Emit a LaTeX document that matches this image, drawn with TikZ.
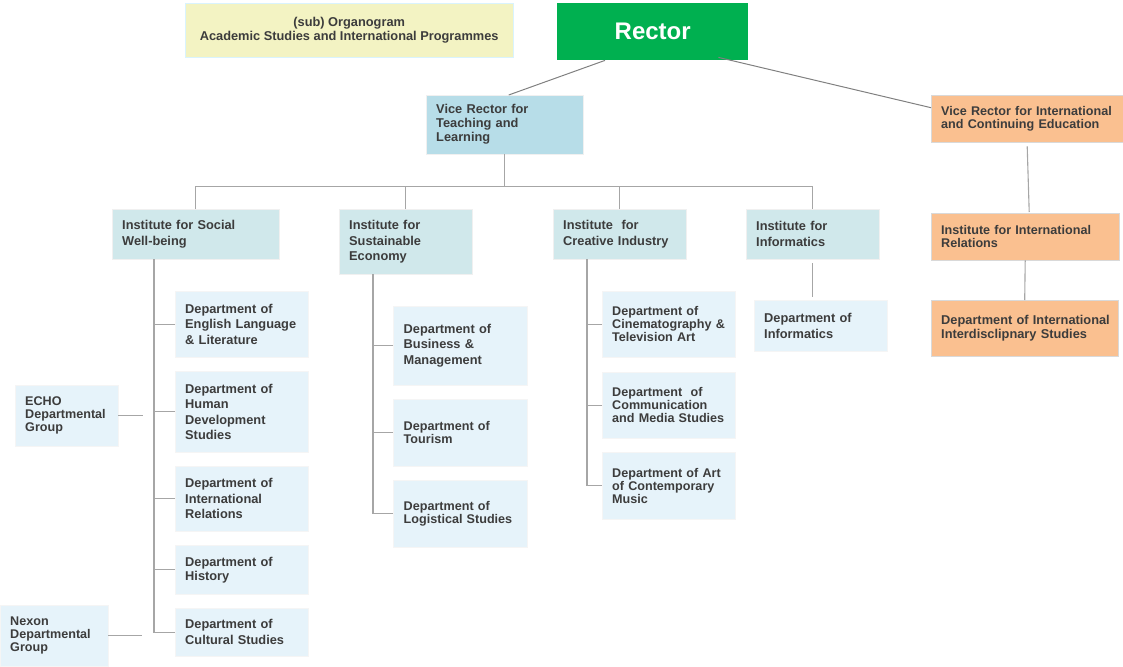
\documentclass[tikz,border=0pt]{standalone}
\usepackage{fontspec}
\setmainfont{Liberation Sans}
\usetikzlibrary{calc}

\definecolor{rectorgreen}{HTML}{00B050}
\definecolor{vrblue}{HTML}{B7DDE8}
\definecolor{vrorange}{HTML}{FAC090}
\definecolor{instteal}{HTML}{D0E8EB}
\definecolor{deptblue}{HTML}{E6F3FA}
\definecolor{titleyellow}{HTML}{F3F3C3}
\definecolor{txtgray}{HTML}{3C3C3C}
\definecolor{linkgray}{HTML}{A6A6A6}

\tikzset{
  unit/.style={rectangle, anchor=north west, align=left, inner xsep=10, inner ysep=0,
    text=txtgray, font=\bfseries\fontsize{12.8}{15.5}\selectfont},
  sp13/.style={font=\bfseries\fontsize{12.6}{13.2}\selectfont},
  sp14/.style={font=\bfseries\fontsize{12.8}{14}\selectfont},
  sp16/.style={font=\bfseries\fontsize{12.8}{16}\selectfont},
  inst/.style={unit, fill=instteal, draw=black!6, minimum width=133, text width=113},
  dept/.style={unit, fill=deptblue, draw=black!4, minimum width=133, text width=113},
  orange/.style={unit, fill=vrorange, draw=black!15},
  link/.style={draw=linkgray, line width=1.1pt},
  toplink/.style={draw=black!50, line width=1pt}
}

\begin{document}
\begin{tikzpicture}[x=1pt, y=-1pt]
  \useasboundingbox (0,0) rectangle (1123,666);

  % top level
  \node[unit, sp14, fill=titleyellow, draw=cyan!15, align=center, minimum width=328, minimum height=54] (title) at (185,3)
    {(sub) Organogram\\Academic Studies and International Programmes};
  \node[unit, fill=rectorgreen, text=white, align=center, minimum width=191, minimum height=57,
    font=\bfseries\fontsize{24}{28}\selectfont] (rector) at (557,3) {Rector};
  \node[unit, sp14, fill=vrblue, draw=black!6, minimum width=157, minimum height=59, text width=137] (vrt) at (426,95)
    {Vice Rector for\\Teaching and\\Learning};
  \node[orange, sp13, minimum width=192, minimum height=47, text width=172] (vri) at (931,95)
    {Vice Rector for International\\and Continuing Education};

  % institutes
  \node[inst, sp16, minimum width=167, text width=147, minimum height=50] (soc) at (112,209) {Institute for Social\\Well-being};
  \node[inst, minimum height=65] (sus) at (339,209) {Institute for\\Sustainable\\Economy};
  \node[inst, sp16, minimum height=50] (cre) at (553,209) {Institute~~for\\Creative Industry};
  \node[inst, sp16, minimum height=50] (info) at (746,209) {Institute for\\Informatics};
  \node[orange, sp13, minimum width=188, minimum height=47, text width=168] (iir) at (931,213)
    {Institute for International\\Relations};

  % departments
  \node[dept, minimum height=66] (eng) at (175,291) {Department of\\English Language\\\& Literature};
  \node[dept, minimum height=81] (hum) at (175,371) {Department of\\Human\\Development\\Studies};
  \node[dept, minimum height=65] (irel) at (175,466) {Department of\\International\\Relations};
  \node[dept, sp14, minimum height=49] (hist) at (175,545) {Department of\\History};
  \node[dept, sp16, minimum height=48] (cult) at (175,608) {Department of\\Cultural Studies};

  \node[dept, minimum width=103, text width=83, sp13, minimum height=61] (echo) at (15,385) {ECHO\\Departmental\\Group};
  \node[dept, minimum width=108, text width=88, sp13, minimum height=61] (nexon) at (0,605) {Nexon\\Departmental\\Group};

  \node[dept, minimum width=134, minimum height=79] (busi) at (393,306) {Department of\\Business \&\\Management};
  \node[dept, sp13, minimum width=134, minimum height=67] (tour) at (393,399) {Department of\\Tourism};
  \node[dept, sp13, minimum width=134, minimum height=67] (logi) at (393,480) {Department of\\Logistical Studies};

  \node[dept, sp13, minimum height=66] (cine) at (602,291) {Department of\\Cinematography \&\\Television Art};
  \node[dept, sp13, minimum height=66] (comm) at (602,372) {Department~~of\\Communication\\and Media Studies};
  \node[dept, sp13, minimum height=67] (art) at (602,452) {Department of Art\\of Contemporary\\Music};

  \node[dept, minimum height=51] (dinfo) at (754,300) {Department of\\Informatics};
  \node[orange, sp14, minimum width=187, minimum height=56, text width=167] (dis) at (931,300)
    {\mbox{Department of International}\\Interdisclipnary Studies};

  % connectors
  \draw[toplink] ([xshift=48]rector.south west) -- ([xshift=4]vrt.north);
  \draw[toplink] ([xshift=-30,yshift=3]rector.south east) -- ([yshift=11]vri.west);

  \draw[link] (vrt.south) -- ++(0,32) coordinate (bus);
  \draw[link] (soc.north) |- (bus) -| (info.north);
  \draw[link] (sus.north) -- (sus.north |- bus);
  \draw[link] (cre.north) -- (cre.north |- bus);

  \draw[link] ([yshift=-4]vri.south) -- ([xshift=4,yshift=1]iir.north);
  \draw[link] (iir.south) -- (dis.north);
  \draw[link, shorten <=4, shorten >=3] (info.south) -- (info.south |- dinfo.north);

  \draw[link] ([xshift=42]soc.south west) |- (cult.west);
  \foreach \d in {eng,hum,irel,hist}
    \draw[link] (\d.west) -- ++(-21,0);
  \draw[link] (echo.east) -- ++(25,0);
  \draw[link] (nexon.east) -- ++(34,0);

  \draw[link] ([xshift=34]sus.south west) |- (logi.west);
  \foreach \d in {busi,tour}
    \draw[link] (\d.west) -- ++(-20,0);

  \draw[link] ([xshift=34]cre.south west) |- (art.west);
  \foreach \d in {cine,comm}
    \draw[link] (\d.west) -- ++(-15,0);

\end{tikzpicture}
\end{document}
